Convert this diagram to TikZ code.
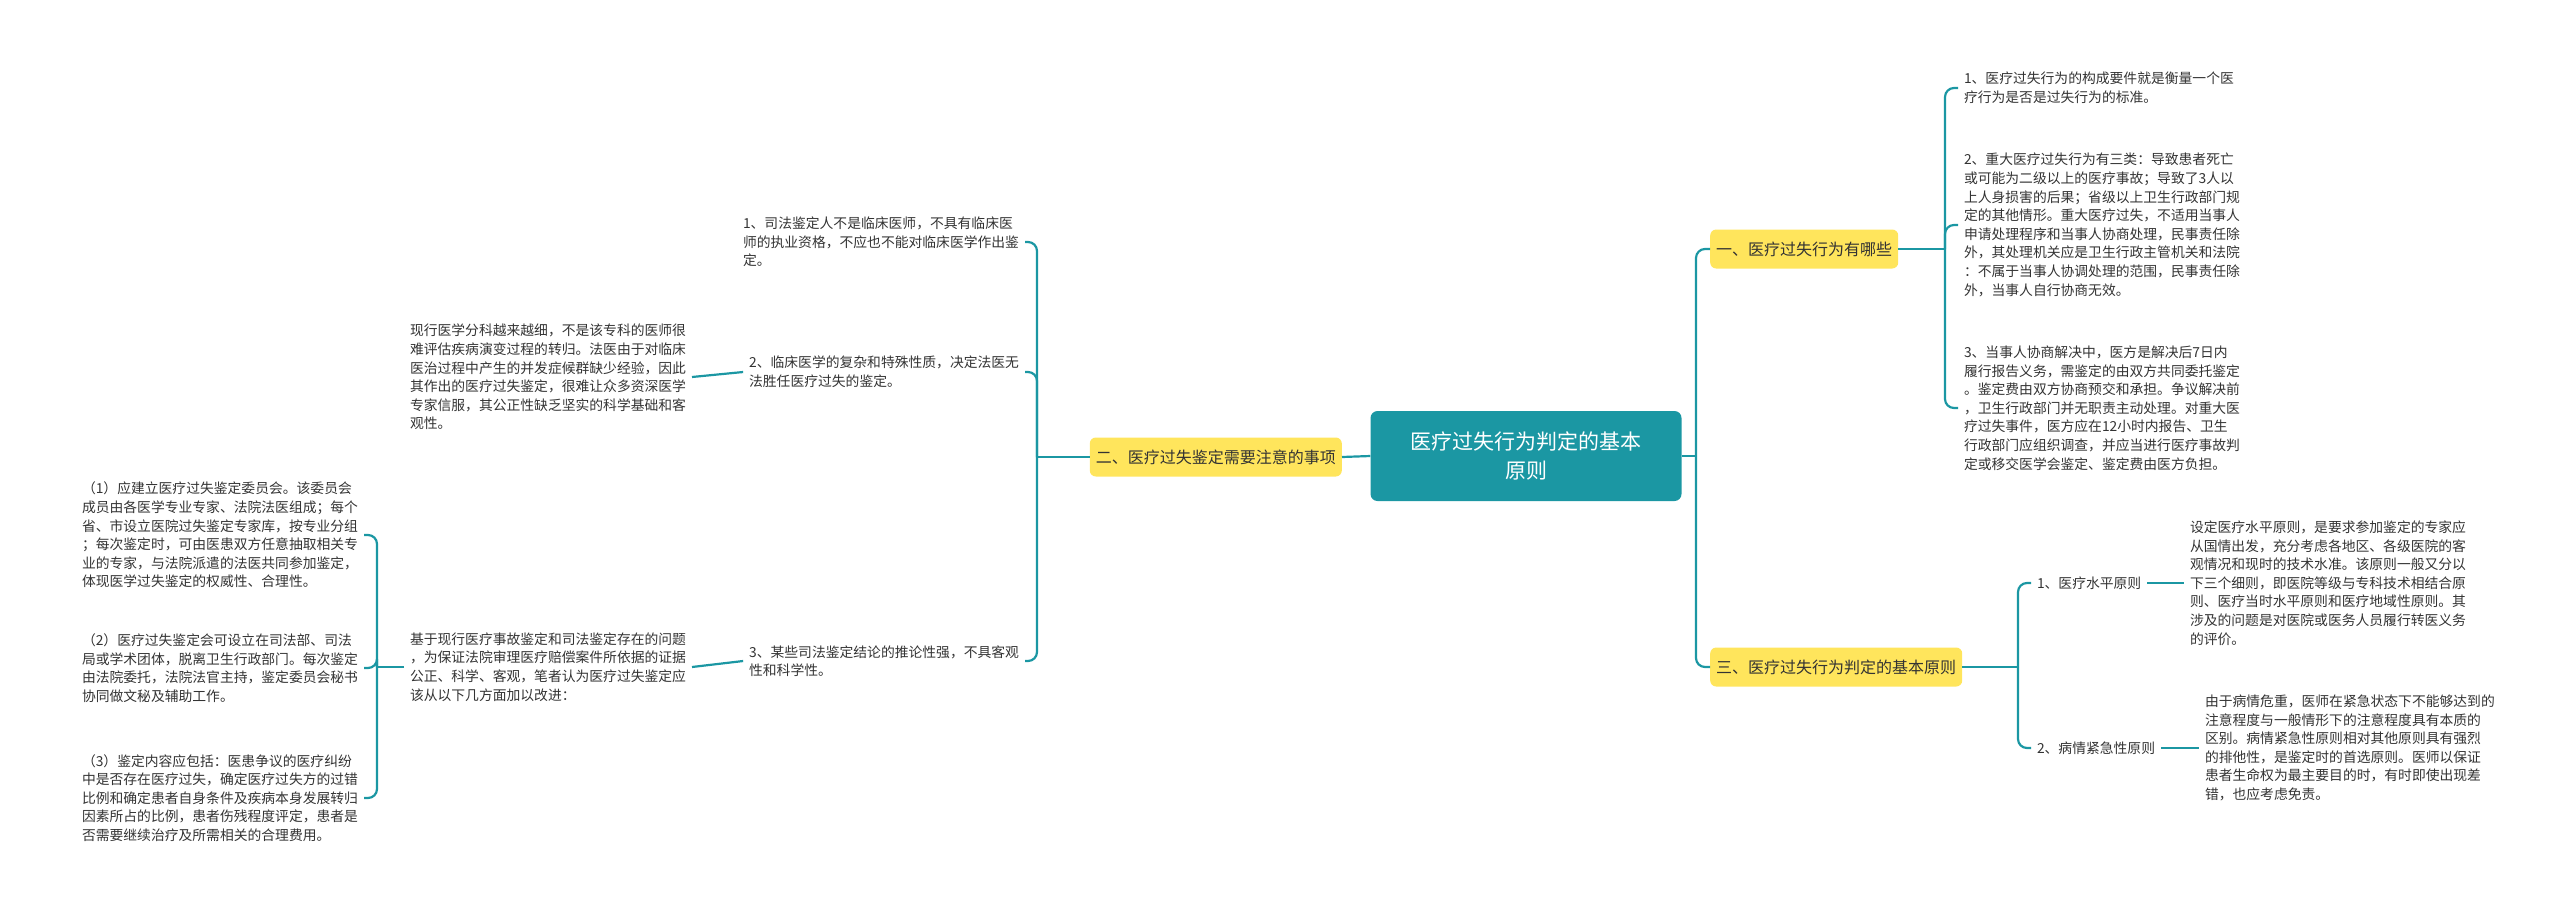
\documentclass[tikz,border=0pt]{standalone}
\usepackage{fontspec}
\setmainfont{Noto Sans CJK SC}
\definecolor{teal1}{HTML}{1B97A3}
\definecolor{yel}{HTML}{FFE55C}
\definecolor{txtc}{HTML}{333333}
\begin{document}
\begin{tikzpicture}[x=1pt,y=-1pt,
  ln/.style={draw=teal1,line width=2.2pt,rounded corners=9pt},
  txt/.style={font=\fontsize{13.8}{18.6}\selectfont,text=txtc,inner sep=0pt,outer sep=6pt,align=left},
  yb/.style={fill=yel,rounded corners=6pt,font=\fontsize{16}{20}\selectfont,text=txtc,inner sep=6pt,minimum height=39pt},
]
\useasboundingbox (0,0) rectangle (2560,914);
\node[fill=teal1,rounded corners=7pt,text=white,font=\fontsize{21}{29}\selectfont,align=center,minimum width=311pt,minimum height=90pt] (c) at (1526,456) {医疗过失行为判定的基本\\原则};
\node[yb,anchor=west] (b1) at (1710,249) {一、医疗过失行为有哪些};
\node[yb,anchor=west] (b3) at (1710,667) {三、医疗过失行为判定的基本原则};
\node[yb,anchor=east] (b2) at (1342,457) {二、医疗过失鉴定需要注意的事项};
% branch 1 leaves
\node[txt,anchor=west] (a1) at (1958,88) {1、医疗过失行为的构成要件就是衡量一个医\\疗行为是否是过失行为的标准。};
\node[txt,anchor=west] (a2) at (1958,225) {2、重大医疗过失行为有三类：导致患者死亡\\或可能为二级以上的医疗事故；导致了3人以\\上人身损害的后果；省级以上卫生行政部门规\\定的其他情形。重大医疗过失，不适用当事人\\申请处理程序和当事人协商处理，民事责任除\\外，其处理机关应是卫生行政主管机关和法院\\：不属于当事人协调处理的范围，民事责任除\\外，当事人自行协商无效。};
\node[txt,anchor=west] (a3) at (1958,408) {3、当事人协商解决中，医方是解决后7日内\\履行报告义务，需鉴定的由双方共同委托鉴定\\。鉴定费由双方协商预交和承担。争议解决前\\，卫生行政部门并无职责主动处理。对重大医\\疗过失事件，医方应在12小时内报告、卫生\\行政部门应组织调查，并应当进行医疗事故判\\定或移交医学会鉴定、鉴定费由医方负担。};
% branch 3
\node[txt,anchor=west] (p1) at (2031,583) {1、医疗水平原则};
\node[txt,anchor=west] (p2) at (2031,748) {2、病情紧急性原则};
\node[txt,anchor=west] (q1) at (2184,583) {设定医疗水平原则，是要求参加鉴定的专家应\\从国情出发，充分考虑各地区、各级医院的客\\观情况和现时的技术水准。该原则一般又分以\\下三个细则，即医院等级与专科技术相结合原\\则、医疗当时水平原则和医疗地域性原则。其\\涉及的问题是对医院或医务人员履行转医义务\\的评价。};
\node[txt,anchor=west] (q2) at (2199,748) {由于病情危重，医师在紧急状态下不能够达到的\\注意程度与一般情形下的注意程度具有本质的\\区别。病情紧急性原则相对其他原则具有强烈\\的排他性，是鉴定时的首选原则。医师以保证\\患者生命权为最主要目的时，有时即使出现差\\错，也应考虑免责。};
% branch 2
\node[txt,anchor=east] (s1) at (1025,242) {1、司法鉴定人不是临床医师，不具有临床医\\师的执业资格，不应也不能对临床医学作出鉴\\定。};
\node[txt,anchor=east] (s2) at (1025,372) {2、临床医学的复杂和特殊性质，决定法医无\\法胜任医疗过失的鉴定。};
\node[txt,anchor=east] (s3) at (1025,661) {3、某些司法鉴定结论的推论性强，不具客观\\性和科学性。};
\node[txt,anchor=east] (t2) at (692,377) {现行医学分科越来越细，不是该专科的医师很\\难评估疾病演变过程的转归。法医由于对临床\\医治过程中产生的并发症候群缺少经验，因此\\其作出的医疗过失鉴定，很难让众多资深医学\\专家信服，其公正性缺乏坚实的科学基础和客\\观性。};
\node[txt,anchor=east] (t3) at (692,667) {基于现行医疗事故鉴定和司法鉴定存在的问题\\，为保证法院审理医疗赔偿案件所依据的证据\\公正、科学、客观，笔者认为医疗过失鉴定应\\该从以下几方面加以改进：};
\node[txt,anchor=east] (u1) at (364,535) {（1）应建立医疗过失鉴定委员会。该委员会\\成员由各医学专业专家、法院法医组成；每个\\省、市设立医院过失鉴定专家库，按专业分组\\；每次鉴定时，可由医患双方任意抽取相关专\\业的专家，与法院派遣的法医共同参加鉴定，\\体现医学过失鉴定的权威性、合理性。};
\node[txt,anchor=east] (u2) at (364,668) {（2）医疗过失鉴定会可设立在司法部、司法\\局或学术团体，脱离卫生行政部门。每次鉴定\\由法院委托，法院法官主持，鉴定委员会秘书\\协同做文秘及辅助工作。};
\node[txt,anchor=east] (u3) at (364,798) {（3）鉴定内容应包括：医患争议的医疗纠纷\\中是否存在医疗过失，确定医疗过失方的过错\\比例和确定患者自身条件及疾病本身发展转归\\因素所占的比例，患者伤残程度评定，患者是\\否需要继续治疗及所需相关的合理费用。};
% connectors
\coordinate (k0) at (1696,456);
\draw[ln] (c.east) -- (k0);
\draw[ln] (k0) |- (b1.west);
\draw[ln] (k0) |- (b3.west);
\draw[ln] (c.west) -- (b2.east);
\coordinate (k1) at (1945,249);
\draw[ln] (b1.east) -- (k1);
\foreach \n in {a1,a2,a3} \draw[ln] (k1) |- (\n.west);
\coordinate (k3) at (2018,667);
\draw[ln] (b3.east) -- (k3);
\foreach \n in {p1,p2} \draw[ln] (k3) |- (\n.west);
\draw[ln] (p1.east) -- (q1.west);
\draw[ln] (p2.east) -- (q2.west);
\coordinate (k2) at (1037,457);
\draw[ln] (b2.west) -- (k2);
\foreach \n in {s1,s2,s3} \draw[ln] (k2) |- (\n.east);
\draw[ln] (s2.west) -- (t2.east);
\draw[ln] (s3.west) -- (t3.east);
\coordinate (k4) at (377,667);
\draw[ln] (t3.west) -- (k4);
\foreach \n in {u1,u2,u3} \draw[ln] (k4) |- (\n.east);
\end{tikzpicture}
\end{document}
